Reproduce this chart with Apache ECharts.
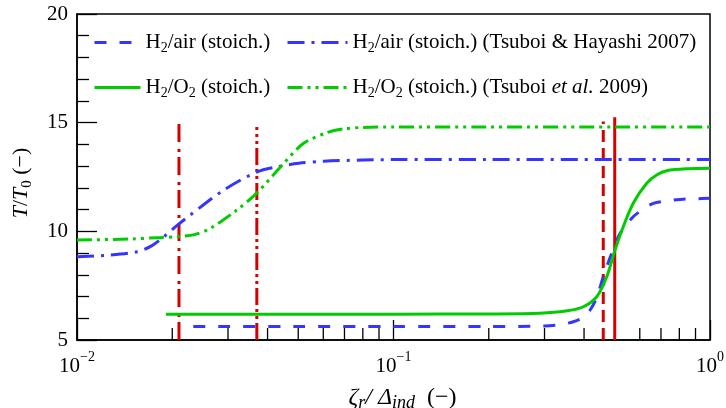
<!DOCTYPE html>
<html>
<head>
<meta charset="utf-8">
<script src="https://cdn.jsdelivr.net/npm/echarts@6/dist/echarts.min.js"></script>
<style>
html,body{margin:0;padding:0;background:#fff;}
#chart{width:726px;height:408px;}
</style>
</head>
<body>
<div id="chart"></div>
<script>
// ---- data ----
const seriesNames = [
  'H2/air (stoich.)',
  'H2/air (stoich.) (Tsuboi & Hayashi 2007)',
  'H2/O2 (stoich.)',
  'H2/O2 (stoich.) (Tsuboi et al. 2009)'
];
// H2/air (stoich.) - blue dashed
const airX = [0.0233, 0.05, 0.1, 0.2, 0.3, 0.34, 0.37, 0.395, 0.418, 0.44, 0.46, 0.489, 0.52, 0.572, 0.62, 0.662, 0.73, 0.804, 0.9, 1.0];
const airY = [5.62, 5.62, 5.62, 5.62, 5.64, 5.72, 5.84, 6.02, 6.38, 7.0, 7.91, 8.99, 9.91, 10.67, 11.05, 11.29, 11.4, 11.47, 11.5, 11.52];
// H2/air Tsuboi & Hayashi 2007 - blue dash-dot
const airRefX = [0.01, 0.0125, 0.0155, 0.0172, 0.0188, 0.021, 0.0228, 0.0291, 0.0371, 0.0429, 0.0502, 0.0602, 0.08, 0.1, 0.2, 0.5, 1.0];
const airRefY = [8.83, 8.9, 9.06, 9.33, 9.75, 10.34, 10.75, 11.9, 12.74, 12.97, 13.13, 13.23, 13.28, 13.3, 13.3, 13.3, 13.3];
// H2/O2 (stoich.) - green solid
const oxyX = [0.0191, 0.05, 0.1, 0.2, 0.29, 0.35, 0.398, 0.4386, 0.4717, 0.501, 0.532, 0.572, 0.631, 0.68, 0.73, 0.85, 1.0];
const oxyY = [6.19, 6.19, 6.19, 6.2, 6.23, 6.33, 6.53, 6.99, 7.91, 9.14, 10.21, 11.29, 12.21, 12.6, 12.79, 12.88, 12.9];
// H2/O2 Tsuboi et al. 2009 - green dash-dot-dot
const oxyRefX = [0.01, 0.015, 0.0179, 0.0207, 0.0235, 0.0264, 0.032, 0.0371, 0.045, 0.052, 0.0616, 0.07, 0.08, 0.1, 0.2, 0.5, 1.0];
const oxyRefY = [9.6, 9.65, 9.71, 9.75, 9.85, 10.14, 10.98, 11.78, 13.13, 14.05, 14.54, 14.72, 14.78, 14.8, 14.8, 14.8, 14.8];
// red vertical markers: x position, bottom, top
const redX = [0.021, 0.037, 0.46, 0.50];
const redBottom = [5, 5, 5, 5];
const redTop = [15.0, 14.8, 15.05, 15.25];
// minor ticks on the log x axis
const minorTicksX = [0.02,0.03,0.04,0.05,0.06,0.07,0.08,0.09,0.2,0.3,0.4,0.5,0.6,0.7,0.8,0.9];
// axis ranges
const xMin = 0.01, xMax = 1;
const yMin = 5, yMax = 20, yInterval = 5;

const zip = (xs, ys) => xs.map((x, i) => [x, ys[i]]);
const FONT = 'Liberation Serif';
const BLUE = '#3535ff', GREEN = '#00cc00', RED = '#d60000';

const legendRich = {
  n: {fontFamily: FONT, fontSize: 21, color: '#000', lineHeight: 26},
  i: {fontFamily: FONT, fontSize: 21, color: '#000', lineHeight: 26, fontStyle: 'italic'},
  sub: {fontFamily: FONT, fontSize: 14, color: '#000', lineHeight: 14, verticalAlign: 'bottom'}
};
const legendLabel = {
  'H2/air (stoich.)': '{n|H}{sub|2}{n|/air (stoich.)}',
  'H2/air (stoich.) (Tsuboi & Hayashi 2007)': '{n|H}{sub|2}{n|/air (stoich.) (Tsuboi & Hayashi 2007)}',
  'H2/O2 (stoich.)': '{n|H}{sub|2}{n|/O}{sub|2}{n| (stoich.)}',
  'H2/O2 (stoich.) (Tsuboi et al. 2009)': '{n|H}{sub|2}{n|/O}{sub|2}{n| (stoich.) (Tsuboi }{i|et al.}{n| 2009)}'
};
function mkLegend(name, left, top, w) {
  return {
    data: [name], left: left, top: top, padding: 0, itemWidth: w, itemHeight: 14, itemGap: 0,
    selectedMode: false,
    itemStyle: {opacity: 0},
    lineStyle: {width: 3},
    formatter: n => legendLabel[n],
    textStyle: {rich: legendRich}
  };
}

const redStyles = [
  {type: [18, 5, 3, 7]},
  {type: [17, 4, 3, 4, 3, 4]},
  {type: [12, 6]},
  {type: 'solid'}
];

const redSeries = redX.map((x, i) => ({
  type: 'line', name: 'red' + i, symbol: 'none', silent: true,
  data: [[x, redBottom[i]], [x, redTop[i]]],
  lineStyle: Object.assign({color: RED, width: 3, cap: 'butt'}, redStyles[i]),
  z: 2
}));

const option = {
  animation: false,
  backgroundColor: '#fff',
  grid: {left: 77, right: 16, top: 14, bottom: 68, show: true, borderColor: '#000', borderWidth: 1.5,
         containLabel: false, outerBoundsMode: 'none'},
  legend: [
    mkLegend(seriesNames[0], 93, 32, 46),
    mkLegend(seriesNames[1], 286, 32, 60),
    mkLegend(seriesNames[2], 93, 77, 46),
    mkLegend(seriesNames[3], 286, 77, 60)
  ],
  xAxis: {
    type: 'log', logBase: 10, min: xMin, max: xMax,
    axisLine: {lineStyle: {color: '#000', width: 1.5}},
    axisTick: {inside: true, length: 20, lineStyle: {color: '#000', width: 1.3}},
    minorTick: {show: false},
    splitLine: {show: false},
    axisLabel: {
      margin: 10, showMinLabel: true, showMaxLabel: true,
      formatter: v => {
        const e = Math.round(Math.log10(v));
        return '{b|10}{s|' + (e < 0 ? '\u2212' + (-e) : e) + '}';
      },
      rich: {
        b: {fontFamily: FONT, fontSize: 21, color: '#000', lineHeight: 32},
        s: {fontFamily: FONT, fontSize: 14, color: '#000', lineHeight: 14, verticalAlign: 'top'}
      }
    },
    name: '{i|\u03B6}{isub|r}{i|/ \u0394}{isub|ind}{n|  (\u2212)}',
    nameLocation: 'middle', nameGap: 44,
    nameTextStyle: {
      padding: [0, 0, 0, 18],
      rich: {
        i: {fontFamily: FONT, fontSize: 24, fontStyle: 'italic', color: '#000', lineHeight: 28},
        isub: {fontFamily: FONT, fontSize: 18, fontStyle: 'italic', color: '#000', lineHeight: 18, verticalAlign: 'bottom'},
        n: {fontFamily: FONT, fontSize: 24, color: '#000', lineHeight: 28}
      }
    }
  },
  yAxis: {
    type: 'value', min: yMin, max: yMax, interval: yInterval,
    axisLine: {lineStyle: {color: '#000', width: 1.5}},
    axisTick: {inside: true, length: 20, lineStyle: {color: '#000', width: 1.3}},
    minorTick: {show: true, splitNumber: 5, length: 12, lineStyle: {color: '#000', width: 1.3}},
    splitLine: {show: false},
    axisLabel: {margin: 9, fontFamily: FONT, fontSize: 21, color: '#000'},
    name: '{i|T}{n|/}{i|T}{sub|0}{n| (\u2212)}',
    nameLocation: 'middle', nameGap: 42,
    nameTextStyle: {
      padding: [0, 12, 0, 0],
      rich: {
        i: {fontFamily: FONT, fontSize: 22, fontStyle: 'italic', color: '#000', lineHeight: 28},
        n: {fontFamily: FONT, fontSize: 22, color: '#000', lineHeight: 28},
        sub: {fontFamily: FONT, fontSize: 15, color: '#000', lineHeight: 15, verticalAlign: 'bottom'}
      }
    }
  },
  series: [
    {
      type: 'custom', name: 'minorTicks', silent: true, z: 1,
      data: minorTicksX.map(v => [v, yMin]),
      renderItem: (params, api) => {
        const p = api.coord([api.value(0), api.value(1)]);
        return {type: 'line', shape: {x1: p[0], y1: p[1], x2: p[0], y2: p[1] - 12},
          style: {stroke: '#000', lineWidth: 1.3}};
      }
    },
    ...redSeries,
    {
      type: 'line', name: seriesNames[0], symbol: 'none', smooth: 0.3, z: 3,
      data: zip(airX, airY),
      lineStyle: {color: BLUE, width: 3, type: [12, 13], cap: 'butt'},
      itemStyle: {color: BLUE}
    },
    {
      type: 'line', name: seriesNames[1], symbol: 'none', smooth: 0.3, z: 3,
      data: zip(airRefX, airRefY),
      lineStyle: {color: BLUE, width: 3, type: [17, 7, 3, 7], cap: 'butt'},
      itemStyle: {color: BLUE}
    },
    {
      type: 'line', name: seriesNames[2], symbol: 'none', smooth: 0.3, z: 3,
      data: zip(oxyX, oxyY),
      lineStyle: {color: GREEN, width: 3, type: 'solid'},
      itemStyle: {color: GREEN}
    },
    {
      type: 'line', name: seriesNames[3], symbol: 'none', smooth: 0.3, z: 3,
      data: zip(oxyRefX, oxyRefY),
      lineStyle: {color: GREEN, width: 3, type: [15, 5, 3, 5, 3, 5], cap: 'butt'},
      itemStyle: {color: GREEN}
    }
  ]
};
const chart = echarts.init(document.getElementById('chart'), null, {renderer: 'canvas'});
chart.setOption(option);
</script>
</body>
</html>
